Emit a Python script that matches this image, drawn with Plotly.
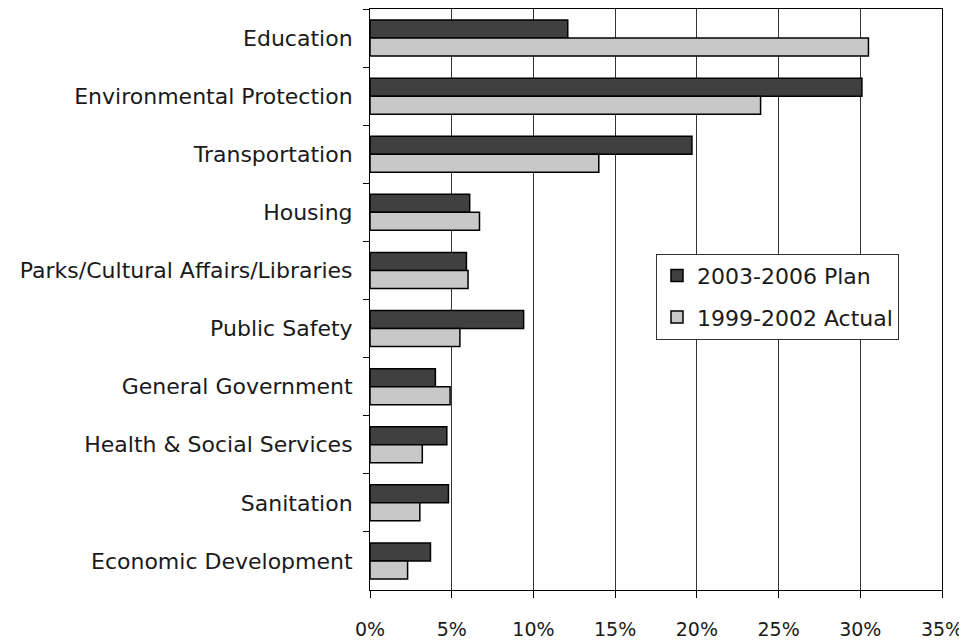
import plotly.graph_objects as go

categories = ["Education", "Environmental Protection", "Transportation", "Housing",
              "Parks/Cultural Affairs/Libraries", "Public Safety", "General Government",
              "Health & Social Services", "Sanitation", "Economic Development"]
plan_2003_2006 = [12.1, 30.1, 19.7, 6.1, 5.9, 9.4, 4.0, 4.7, 4.8, 3.7]
actual_1999_2002 = [30.5, 23.9, 14.0, 6.7, 6.0, 5.5, 4.9, 3.2, 3.05, 2.3]
x_ticks = [0, 5, 10, 15, 20, 25, 30, 35]
x_tick_labels = ["0%", "5%", "10%", "15%", "20%", "25%", "30%", "35%"]

FONT = "DejaVu Sans"

fig = go.Figure()
fig.add_trace(go.Bar(y=categories, x=plan_2003_2006, orientation="h", name="2003-2006 Plan",
                     marker=dict(color="#404040", line=dict(color="black", width=1.5)),
                     legendgroup="a"))
fig.add_trace(go.Bar(y=categories, x=actual_1999_2002, orientation="h", name="1999-2002 Actual",
                     marker=dict(color="#C8C8C8", line=dict(color="black", width=1.5)),
                     legendgroup="b"))

fig.update_layout(
    width=959, height=636,
    margin=dict(l=362, r=25, t=1, b=54),
    paper_bgcolor="white", plot_bgcolor="white",
    barmode="group", bargap=0.38, bargroupgap=0,
    font=dict(family=FONT, size=22, color="#1a1a1a"),
    legend=dict(x=0.5, y=0.579, xanchor="left", yanchor="top",
                bgcolor="white", bordercolor="#333", borderwidth=1,
                font=dict(family=FONT, size=22, color="#1a1a1a"),
                tracegroupgap=10, traceorder="grouped", itemwidth=30),
    xaxis=dict(range=[0, 35], tickvals=x_ticks, ticktext=x_tick_labels,
               tickfont=dict(size=19),
               showgrid=True, gridcolor="#333", gridwidth=1,
               showline=True, linecolor="black", linewidth=1, mirror=True,
               ticks="outside", ticklen=7, tickcolor="black",
               ticklabelstandoff=15, ticklabeloverflow="allow",
               zeroline=False, automargin=False),
    yaxis=dict(autorange="reversed", showline=True, linecolor="black", linewidth=1, mirror=True,
               ticks="outside", ticklen=6, tickcolor="black", tickson="boundaries",
               ticklabelstandoff=12, ticklabeloverflow="allow",
               showgrid=False, automargin=False),
)

fig.write_html("out.html")
